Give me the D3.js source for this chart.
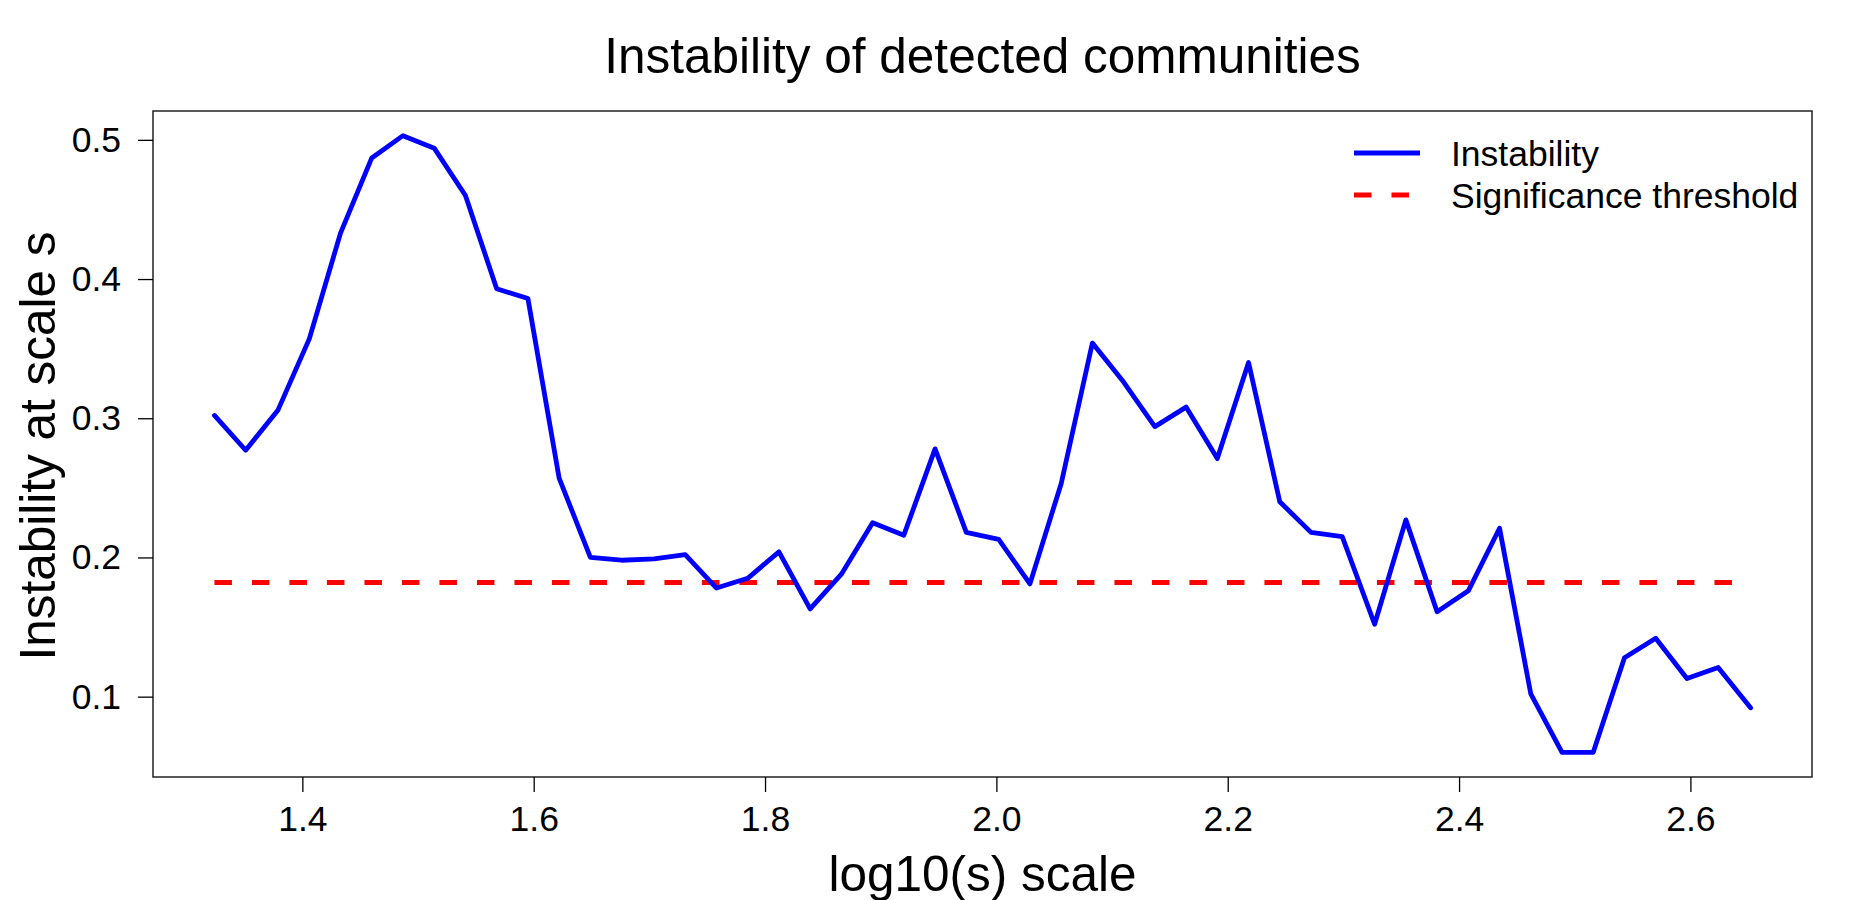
<!DOCTYPE html>
<html>
<head>
<meta charset="utf-8">
<script src="https://cdn.jsdelivr.net/npm/d3@7"></script>
<style>
  body { margin: 0; background: #fff; }
  svg text { font-family: "Liberation Sans", Arial, Helvetica, sans-serif; fill: #000; }
</style>
</head>
<body>
<div id="viz"></div>
<script>
// log10(s) values of the scales
var logScale = [1.324, 1.351, 1.379, 1.406, 1.433, 1.460, 1.487, 1.514, 1.541, 1.568,
                1.595, 1.622, 1.649, 1.676, 1.704, 1.731, 1.758, 1.785, 1.812, 1.839,
                1.866, 1.893, 1.920, 1.947, 1.974, 2.002, 2.029, 2.056, 2.083, 2.110,
                2.137, 2.164, 2.191, 2.218, 2.245, 2.272, 2.299, 2.327, 2.354, 2.381,
                2.408, 2.435, 2.462, 2.489, 2.516, 2.543, 2.570, 2.597, 2.624, 2.652];

var instability = [0.302, 0.277, 0.306, 0.357, 0.433, 0.487, 0.503, 0.494, 0.460, 0.393,
                   0.386, 0.257, 0.200, 0.198, 0.199, 0.202, 0.178, 0.185, 0.204, 0.163,
                   0.188, 0.225, 0.216, 0.278, 0.218, 0.213, 0.181, 0.253, 0.354, 0.326,
                   0.294, 0.308, 0.271, 0.340, 0.240, 0.218, 0.215, 0.152, 0.227, 0.161,
                   0.176, 0.221, 0.102, 0.060, 0.060, 0.128, 0.142, 0.113, 0.121, 0.092];

var threshold = 0.182;

var xTicks = [1.4, 1.6, 1.8, 2.0, 2.2, 2.4, 2.6];
var yTicks = [0.1, 0.2, 0.3, 0.4, 0.5];

var legendLabels = ['Instability', 'Significance threshold'];

var width = 1875,
    height = 900,
    plotLeft = 153,
    plotRight = 1812,
    plotTop = 111,
    plotBottom = 777;

var dashes = '17.5,20';

// R style 4% padding around the data range
function padded(ext) {
    var p = (ext[1] - ext[0]) * 0.04;
    return [ext[0] - p, ext[1] + p];
}

var xScale = d3.scaleLinear()
    .domain(padded(d3.extent(logScale)))
    .range([plotLeft, plotRight]);

var yScale = d3.scaleLinear()
    .domain(padded(d3.extent(instability)))
    .range([plotBottom, plotTop]);

var svg = d3.select('#viz').append('svg')
    .attr('width', width)
    .attr('height', height);

// plot frame
svg.append('rect')
    .attr('x', plotLeft)
    .attr('y', plotTop)
    .attr('width', plotRight - plotLeft)
    .attr('height', plotBottom - plotTop)
    .attr('fill', 'none')
    .attr('stroke', '#222')
    .attr('stroke-width', 1.5);

var xAxis = svg.append('g')
    .attr('transform', 'translate(0,' + plotBottom + ')')
    .call(d3.axisBottom(xScale)
        .tickValues(xTicks)
        .tickFormat(d3.format('.1f'))
        .tickSize(15)
        .tickPadding(14));

var yAxis = svg.append('g')
    .attr('transform', 'translate(' + plotLeft + ',0)')
    .call(d3.axisLeft(yScale)
        .tickValues(yTicks)
        .tickFormat(d3.format('.1f'))
        .tickSize(15)
        .tickPadding(17));

[xAxis, yAxis].forEach(function (ax) {
    ax.select('.domain').remove();
    ax.selectAll('line').attr('stroke', '#000').attr('stroke-width', 1.3);
    ax.selectAll('text')
        .style('font-family', '"Liberation Sans", Arial, sans-serif')
        .style('font-size', '35.5px')
        .attr('fill', '#000');
});

// threshold line
svg.append('line')
    .attr('x1', xScale(logScale[0]))
    .attr('x2', xScale(logScale[logScale.length - 1]))
    .attr('y1', yScale(threshold))
    .attr('y2', yScale(threshold))
    .attr('stroke', '#ff0000')
    .attr('stroke-width', 4.8)
    .attr('stroke-dasharray', dashes);

var line = d3.line()
    .x(function (d, i) { return xScale(logScale[i]); })
    .y(function (d) { return yScale(d); });

svg.append('path')
    .datum(instability)
    .attr('d', line)
    .attr('fill', 'none')
    .attr('stroke', '#0000ff')
    .attr('stroke-width', 4.8)
    .attr('stroke-linejoin', 'round')
    .attr('stroke-linecap', 'round');

// title and axis labels
svg.append('text')
    .attr('x', (plotLeft + plotRight) / 2)
    .attr('y', 73)
    .attr('text-anchor', 'middle')
    .style('font-size', '49.5px')
    .text('Instability of detected communities');

svg.append('text')
    .attr('x', (plotLeft + plotRight) / 2)
    .attr('y', 891)
    .attr('text-anchor', 'middle')
    .style('font-size', '49.5px')
    .text('log10(s) scale');

svg.append('text')
    .attr('transform', 'translate(55,' + ((plotTop + plotBottom) / 2 + 2) + ') rotate(-90)')
    .attr('text-anchor', 'middle')
    .style('font-size', '49.5px')
    .text('Instability at scale s');

// legend
var legend = svg.append('g');
var legendStyles = [
    { color: '#0000ff', dash: null },
    { color: '#ff0000', dash: dashes }
];

legendLabels.forEach(function (label, i) {
    var y = 153 + i * 42;
    legend.append('line')
        .attr('x1', 1354)
        .attr('x2', 1420)
        .attr('y1', y)
        .attr('y2', y)
        .attr('stroke', legendStyles[i].color)
        .attr('stroke-width', 4.8)
        .attr('stroke-dasharray', legendStyles[i].dash);
    legend.append('text')
        .attr('x', 1451)
        .attr('y', y + 12.5)
        .style('font-size', '35.5px')
        .text(label);
});
</script>
</body>
</html>
